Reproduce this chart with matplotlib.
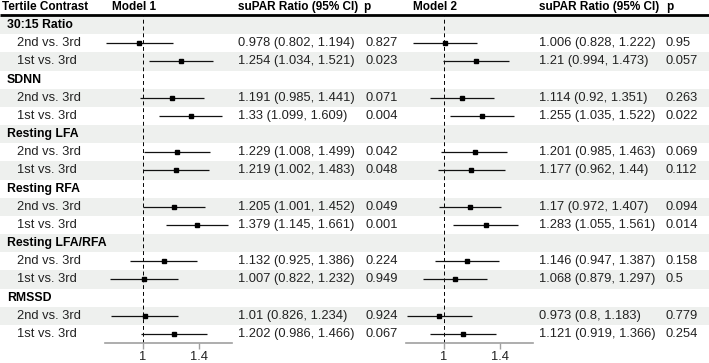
import numpy as np
import matplotlib.pyplot as plt

plt.rcParams['font.family'] = ['Liberation Sans', 'DejaVu Sans']

groups = ["30:15 Ratio", "SDNN", "Resting LFA", "Resting RFA", "Resting LFA/RFA", "RMSSD"]
contrasts = ["2nd vs. 3rd", "1st vs. 3rd"]

# model 1: estimate, low, high, p  (order: group by group, 2nd then 1st)
m1_est = [0.978, 1.254, 1.191, 1.33, 1.229, 1.219, 1.205, 1.379, 1.132, 1.007, 1.01, 1.202]
m1_low = [0.802, 1.034, 0.985, 1.099, 1.008, 1.002, 1.001, 1.145, 0.925, 0.822, 0.826, 0.986]
m1_high = [1.194, 1.521, 1.441, 1.609, 1.499, 1.483, 1.452, 1.661, 1.386, 1.232, 1.234, 1.466]
m1_p = ["0.827", "0.023", "0.071", "0.004", "0.042", "0.048", "0.049", "0.001", "0.224", "0.949", "0.924", "0.067"]

# model 2
m2_est = [1.006, 1.21, 1.114, 1.255, 1.201, 1.177, 1.17, 1.283, 1.146, 1.068, 0.973, 1.121]
m2_low = [0.828, 0.994, 0.92, 1.035, 0.985, 0.962, 0.972, 1.055, 0.947, 0.879, 0.8, 0.919]
m2_high = [1.222, 1.473, 1.351, 1.522, 1.463, 1.44, 1.407, 1.561, 1.387, 1.297, 1.183, 1.366]
m2_p = ["0.95", "0.057", "0.263", "0.022", "0.069", "0.112", "0.094", "0.014", "0.158", "0.5", "0.779", "0.254"]

x_ticks = [1, 1.4]

W, H = 709, 363
top, rh = 16, 18.17
nrows = len(groups) * 3

fig = plt.figure(figsize=(W / 100, H / 100), dpi=100)
ax = fig.add_axes([0, 0, 1, 1])
ax.set_xlim(0, W)
ax.set_ylim((H - top) / rh, -top / rh)
ax.axis('off')

shade = '#eef0ee'
for i in range(0, nrows, 2):
    ax.axhspan(i, i + 1, color=shade, lw=0, zorder=0)

fs = 9.3
fsb = 8.5
hy = -top / rh / 2 - 0.05
hdr = [(2, "Tertile Contrast"), (112, "Model 1"), (238, "suPAR Ratio (95% CI)"), (363, "p"),
       (413, "Model 2"), (539, "suPAR Ratio (95% CI)"), (666, "p")]
for x, t in hdr:
    ax.text(x, hy, t, fontsize=fsb, fontweight='bold', va='center', ha='left')
ax.plot([0, W], [-0.05, -0.05], color='black', lw=2, solid_capstyle='butt')

def fmt(e, l, h):
    return f"{e} ({l}, {h})"

k = 0
for gi, g in enumerate(groups):
    r = gi * 3
    ax.text(7, r + 0.5, g, fontsize=fsb + 0.3, fontweight='bold', va='center')
    for ci, c in enumerate(contrasts):
        rr = r + 1 + ci
        ax.text(17, rr + 0.5, c, fontsize=fs, va='center', color='#222222')
        ax.text(238, rr + 0.5, fmt(m1_est[k], m1_low[k], m1_high[k]), fontsize=fs, va='center', color='#222222')
        ax.text(365, rr + 0.5, m1_p[k], fontsize=fs, va='center', color='#222222')
        ax.text(539, rr + 0.5, fmt(m2_est[k], m2_low[k], m2_high[k]), fontsize=fs, va='center', color='#222222')
        ax.text(666, rr + 0.5, m2_p[k], fontsize=fs, va='center', color='#222222')
        k += 1

rows = []
for gi in range(len(groups)):
    rows += [gi * 3 + 1.5, gi * 3 + 2.5]

def forest(x0, est, low, high):
    bot = 1 - (top + rh * nrows) / H
    fa = fig.add_axes([x0 / W, bot, 127 / W, rh * nrows / H])
    fa.patch.set_alpha(0)
    fa.set_xscale('log')
    fa.set_xlim(0.796, 1.706)
    fa.set_ylim(nrows, 0)
    fa.axvline(1, color='black', ls=(0, (4, 3)), lw=0.7)
    fa.hlines(rows, low, high, color='#111111', lw=0.9)
    fa.plot(est, rows, 's', color='black', ms=3.2)
    for s in ['top', 'left', 'right']:
        fa.spines[s].set_visible(False)
    fa.spines['bottom'].set_color('#a0a0a0')
    fa.spines['bottom'].set_linewidth(1.2)
    fa.set_yticks([])
    fa.set_xticks(x_ticks)
    fa.set_xticklabels([str(t) for t in x_ticks])
    fa.minorticks_off()
    fa.tick_params(axis='x', colors='#a0a0a0', labelcolor='#222222', length=4, width=1, labelsize=fs, pad=2)

forest(105, m1_est, m1_low, m1_high)
forest(406, m2_est, m2_low, m2_high)

fig.savefig('out.png', dpi=100)
